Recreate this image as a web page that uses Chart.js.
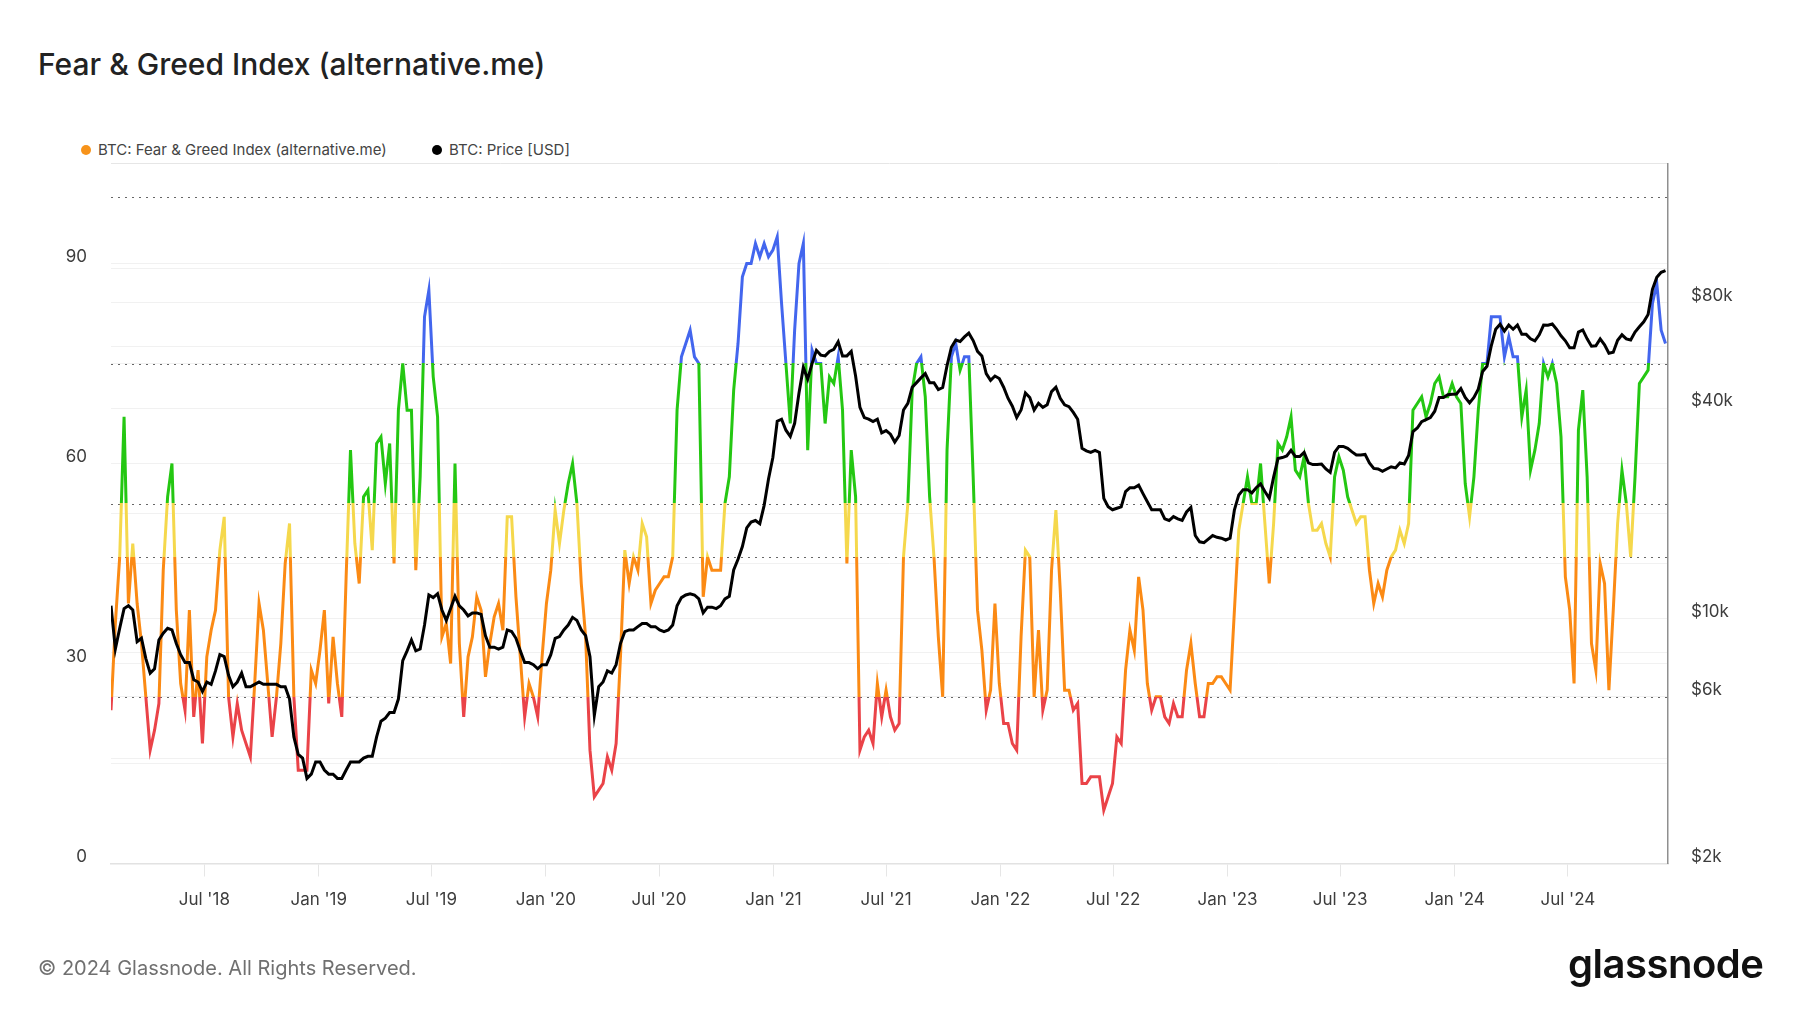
<!DOCTYPE html>
<html>
<head>
<meta charset="utf-8">
<script src="https://cdn.jsdelivr.net/npm/chart.js@4.4.1/dist/chart.umd.min.js"></script>
<style>
    html, body { margin: 0; padding: 0; background: #fff; }
    body { width: 1800px; height: 1013px; position: relative; overflow: hidden; font-family: Inter, 'Noto Sans', sans-serif; }
    #wrap { position: absolute; left: 0; top: 0; width: 1800px; height: 1013px; }
    #title { position: absolute; left: 38px; top: 46px; font-size: 30px; line-height: 36px; font-weight: 500; color: #222; }
    .legend { position: absolute; top: 141px; font-size: 15px; line-height: 18px; color: #444; white-space: nowrap; }
    .legend .dot { display: inline-block; width: 10px; height: 10px; border-radius: 50%; margin-right: 7px; vertical-align: 0px; }
    #footer { position: absolute; left: 38px; top: 955px; font-size: 20px; line-height: 26px; color: #707070; }
    #logo { position: absolute; left: 1568px; top: 940px; font-size: 40px; line-height: 48px; font-weight: 600; color: #111; letter-spacing: -0.5px; }
</style>
</head>
<body>
<div id="title">Fear &amp; Greed Index (alternative.me)</div>
<div class="legend" style="left:81px"><span class="dot" style="background:#f7931a"></span>BTC: Fear &amp; Greed Index (alternative.me)</div>
<div class="legend" style="left:432px"><span class="dot" style="background:#000"></span>BTC: Price [USD]</div>
<div id="wrap"><canvas id="fng"></canvas></div>
<div id="footer">© 2024 Glassnode. All Rights Reserved.</div>
<div id="logo">glassnode</div>

<script>
// weekly samples starting 2018-02-01 (x = days since start)
const stepDays = 7;

// fear & greed index
const fearGreed = [
    23, 36, 46, 67, 39, 48, 39, 33, 25, 17,
    20, 24, 44, 55, 60, 38, 27, 23, 38, 22,
    29, 18, 31, 35, 38, 47, 52, 25, 19, 24,
    20, 18, 16, 27, 39, 35, 27, 19, 25, 33,
    45, 51, 25, 14, 14, 14, 29, 27, 32, 38,
    24, 34, 27, 22, 43, 62, 48, 42, 55, 56,
    47, 63, 64, 57, 63, 45, 68, 75, 68, 68,
    44, 58, 82, 86, 73, 67, 34, 36, 30, 60,
    33, 22, 31, 34, 40, 38, 28, 33, 37, 39,
    35, 52, 52, 40, 31, 22, 27, 25, 22, 31,
    39, 44, 53, 48, 53, 57, 60, 54, 42, 34,
    17, 10, 11, 12, 16, 14, 18, 31, 47, 42,
    46, 44, 51, 49, 39, 41, 42, 43, 43, 46,
    68, 76, 78, 80, 76, 75, 40, 46, 44, 44,
    44, 54, 58, 71, 78, 88, 90, 90, 93, 91,
    93, 91, 92, 94, 84, 75, 66, 80, 90, 93,
    62, 77, 75, 75, 66, 73, 72, 76, 68, 45,
    62, 55, 17, 19, 20, 18, 27, 22, 26, 22,
    20, 21, 46, 54, 71, 75, 76, 70, 55, 46,
    34, 25, 62, 76, 78, 74, 76, 76, 58, 38,
    32, 23, 26, 39, 27, 21, 21, 18, 17, 34,
    47, 46, 25, 35, 23, 26, 44, 53, 41, 26,
    26, 23, 24, 12, 12, 13, 13, 13, 8, 10,
    12, 19, 18, 29, 35, 32, 43, 38, 27, 23,
    25, 25, 22, 21, 24, 22, 22, 29, 33, 27,
    22, 22, 27, 27, 28, 28, 27, 26, 38, 50,
    54, 58, 54, 54, 60, 51, 42, 51, 63, 62,
    64, 67, 59, 58, 61, 54, 50, 50, 51, 48,
    46, 58, 61, 59, 55, 53, 51, 52, 52, 44,
    39, 42, 40, 44, 46, 47, 50, 48, 51, 68,
    69, 70, 67, 69, 72, 73, 70, 70, 72, 70,
    69, 57, 52, 58, 68, 75, 75, 82, 82, 82,
    76, 79, 76, 76, 67, 71, 59, 62, 66, 75,
    73, 75, 72, 64, 43, 38, 27, 65, 71, 58,
    33, 29, 45, 42, 26, 38, 51, 59, 54, 46,
    58, 72, 73, 74, 84, 87, 80, 78
];

// BTC price in USD, same weeks
const btcPrice = [
    10900, 8200, 9400, 10700, 10900, 10600, 8600, 8800, 7700, 7000,
    7200, 8700, 9100, 9400, 9300, 8500, 7900, 7500, 7500, 6700,
    6600, 6200, 6600, 6500, 7100, 7900, 7800, 6900, 6400, 6600,
    7000, 6400, 6400, 6500, 6600, 6500, 6500, 6500, 6500, 6400,
    6400, 5900, 4600, 4100, 4000, 3500, 3600, 3900, 3900, 3700,
    3600, 3600, 3500, 3500, 3700, 3900, 3900, 3900, 4000, 4050,
    4050, 4600, 5100, 5200, 5400, 5400, 5900, 7600, 8100, 8700,
    8100, 8200, 9600, 11700, 11500, 11800, 10600, 9900, 10700, 11600,
    10900, 10600, 10200, 10400, 10400, 10300, 8950, 8300, 8300, 8200,
    8300, 9300, 9200, 8800, 8100, 7500, 7500, 7400, 7200, 7400,
    7400, 7900, 8800, 8900, 9300, 9600, 10100, 9900, 9300, 8950,
    7800, 5300, 6400, 6600, 7100, 7000, 7400, 8500, 9200, 9300,
    9300, 9500, 9700, 9700, 9500, 9500, 9300, 9200, 9300, 9600,
    10900, 11500, 11700, 11800, 11700, 11400, 10400, 10800, 10800, 10700,
    10900, 11400, 11600, 13800, 14800, 16100, 18200, 18900, 19100, 18700,
    21100, 25100, 28900, 36700, 37200, 34600, 33200, 36200, 44200, 52300,
    48400, 53600, 58500, 56700, 56400, 58100, 58900, 61900, 56400, 56400,
    58100, 49400, 40200, 37600, 37200, 36600, 37200, 34000, 34500, 33700,
    32000, 33400, 39500, 41300, 45900, 47300, 48800, 50200, 47300, 47300,
    45200, 45800, 52900, 59700, 62600, 62000, 63900, 65500, 62400, 58100,
    56400, 50200, 48000, 49400, 48600, 45900, 42700, 40500, 37600, 39500,
    44200, 42900, 39500, 41300, 40200, 40900, 44600, 45900, 42700, 40900,
    40400, 38900, 37200, 30700, 30200, 29900, 30300, 29900, 22100, 20900,
    20500, 20700, 20900, 23100, 23700, 23700, 24100, 22800, 21600, 20500,
    20500, 20500, 19300, 19100, 19600, 19300, 19100, 20200, 20800, 17300,
    16600, 16500, 16900, 17300, 17100, 17000, 16800, 17000, 20500, 22600,
    23400, 23400, 22900, 23700, 24300, 23100, 22100, 25400, 28700, 28900,
    29200, 30300, 29100, 29100, 29900, 27900, 27600, 27600, 27700, 26800,
    26200, 29900, 31100, 31100, 30700, 30000, 29400, 29400, 29500, 27900,
    26900, 26800, 26400, 26800, 27200, 27000, 27900, 27700, 29300, 34300,
    35100, 36600, 37100, 37600, 39200, 42900, 42900, 43700, 43800, 43900,
    45500, 42900, 41400, 42900, 45300, 50900, 52700, 60400, 67200, 69500,
    66400, 69100, 67200, 69100, 65000, 65000, 63100, 62300, 64800, 69100,
    69000, 69600, 67200, 64400, 62300, 59500, 59500, 66000, 66900, 63100,
    60100, 60300, 63100, 60700, 57400, 57800, 62500, 64800, 63100, 62600,
    66000, 68300, 70600, 74100, 87400, 94600, 97800, 98900
];

// x axis ticks (days since 2018-02-01)
const tickDays = [150, 334, 515, 699, 881, 1065, 1246, 1430, 1611, 1795, 1976, 2160, 2342];
const tickLabels = ["Jul '18", "Jan '19", "Jul '19", "Jan '20", "Jul '20", "Jan '21", "Jul '21",
    "Jan '22", "Jul '22", "Jan '23", "Jul '23", "Jan '24", "Jul '24"];

// left axis labels, right axis grid and labels
const fngLabels = [0, 30, 60, 90];
const priceGrid = [2000, 4000, 6000, 8000, 10000, 20000, 40000, 60000, 80000, 100000];
const priceLabels = [2000, 6000, 10000, 40000, 80000];

// sentiment bands and dotted guide lines
const bandLimits = [25, 46, 54, 75];
const bandColors = ['#ea4348', '#fb8a14', '#f5d84c', '#24c712', '#4366ee'];
const dottedLevels = [25, 46, 54, 75, 100];

const fngPoints = fearGreed.map((v, i) => ({ x: i * stepDays, y: v }));
const pricePoints = btcPrice.map((v, i) => ({ x: i * stepDays, y: v }));

// colour the index line by the band its value sits in
function bandGradient(context) {
    const chart = context.chart;
    const { ctx, chartArea, scales } = chart;
    if (!chartArea) return bandColors[1];
    const h = chartArea.bottom - chartArea.top;
    const edges = [-50].concat(bandLimits, [500]);
    const g = ctx.createLinearGradient(0, chartArea.bottom, 0, chartArea.top);
    const frac = (v) => Math.min(1, Math.max(0, (chartArea.bottom - scales.y.getPixelForValue(v)) / h));
    for (let i = 0; i < bandColors.length; i++) {
        g.addColorStop(frac(edges[i]), bandColors[i]);
        g.addColorStop(frac(edges[i + 1]), bandColors[i]);
    }
    return g;
}

const dottedLines = {
    id: 'dottedLines',
    beforeDatasetsDraw(chart) {
        const { ctx, chartArea, scales } = chart;
        ctx.save();
        ctx.strokeStyle = '#666';
        ctx.lineWidth = 1.2;
        ctx.setLineDash([2, 5]);
        dottedLevels.forEach(function (v) {
            const y = Math.round(scales.y.getPixelForValue(v)) + 0.5;
            ctx.beginPath();
            ctx.moveTo(chartArea.left, y);
            ctx.lineTo(chartArea.right, y);
            ctx.stroke();
        });
        ctx.restore();
    }
};

const tickFont = { family: 'Inter', size: 17 };

const data = {
    datasets: [
        {
            label: 'BTC: Fear & Greed Index (alternative.me)',
            data: fngPoints,
            yAxisID: 'y',
            borderColor: bandGradient,
            borderWidth: 3,
            pointRadius: 0,
            tension: 0,
            order: 2,
        },
        {
            label: 'BTC: Price [USD]',
            data: pricePoints,
            yAxisID: 'y1',
            borderColor: '#000',
            borderWidth: 3,
            pointRadius: 0,
            tension: 0,
            order: 1,
        }
    ]
};

const config = {
    type: 'line',
    data: data,
    plugins: [dottedLines],
    options: {
        responsive: true,
        maintainAspectRatio: false,
        animation: false,
        devicePixelRatio: 1,
        layout: {
            padding: { top: 163.5, bottom: 89.5, left: 0, right: 0 }
        },
        plugins: {
            legend: { display: false },
            tooltip: { enabled: false },
        },
        scales: {
            x: {
                type: 'linear',
                min: 0,
                max: 2503,
                afterBuildTicks: (scale) => { scale.ticks = tickDays.map(v => ({ value: v })); },
                afterFit: (scale) => { scale.height = 60; },
                grid: {
                    drawOnChartArea: false,
                    drawTicks: true,
                    tickLength: 13,
                    color: '#e6e6e6',
                },
                border: { display: true, color: '#e2e2e2', width: 1.5 },
                ticks: {
                    autoSkip: false,
                    maxRotation: 0,
                    padding: 13,
                    color: '#3d3d3d',
                    font: tickFont,
                    callback: (value) => tickLabels[tickDays.indexOf(value)],
                },
            },
            y: {
                position: 'left',
                min: 0,
                max: 105,
                afterFit: (scale) => { scale.width = 111; },
                grid: {
                    drawTicks: false,
                    color: (c) => c.tick.value === 105 ? '#e6e6e6' : '#f1f1f1',
                },
                border: { display: false },
                ticks: {
                    stepSize: 15,
                    padding: 24,
                    labelOffset: -7,
                    color: '#3d3d3d',
                    font: tickFont,
                    callback: (value) => fngLabels.includes(value) ? value : '',
                },
            },
            y1: {
                type: 'logarithmic',
                position: 'right',
                min: 2000,
                max: 200000,
                afterBuildTicks: (scale) => { scale.ticks = priceGrid.map(v => ({ value: v })); },
                afterFit: (scale) => { scale.width = 132; },
                grid: {
                    drawTicks: false,
                    color: '#f1f1f1',
                },
                border: { display: true, color: '#8f8f8f', width: 1.5 },
                ticks: {
                    padding: 23,
                    labelOffset: -7,
                    color: '#3d3d3d',
                    font: tickFont,
                    callback: (value) => priceLabels.includes(value) ? '$' + (value / 1000) + 'k' : '',
                },
            },
        },
    },
};

var ctx = document.getElementById('fng').getContext('2d');
var fngChart = new Chart(ctx, config);
</script>
</body>
</html>
